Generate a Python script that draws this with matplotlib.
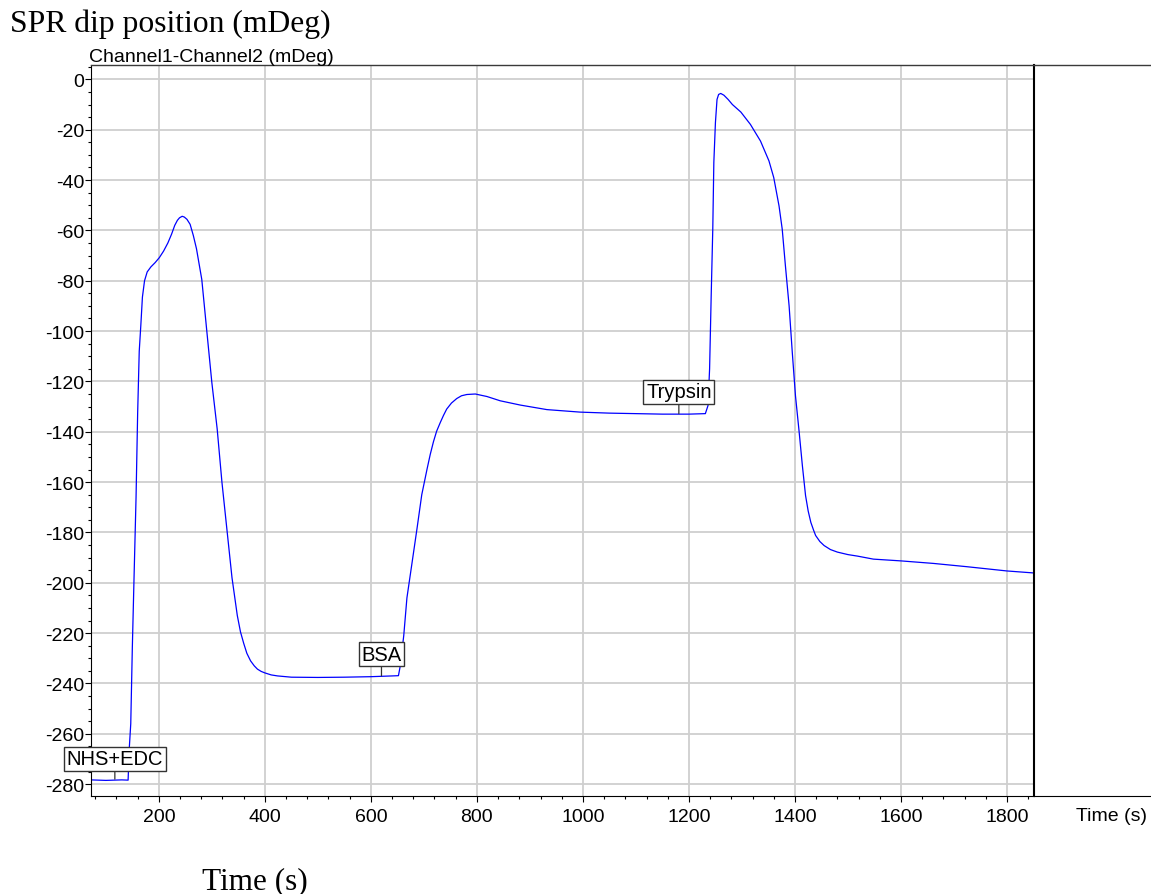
import matplotlib
matplotlib.use("Agg")
import matplotlib.pyplot as plt
from matplotlib.lines import Line2D
from matplotlib.ticker import MultipleLocator

plt.rcParams['axes.unicode_minus'] = False

# tiempo (s) y posicion del dip SPR (mDeg)
tiempo = [72, 100, 130, 142, 144, 147, 150, 153, 157, 160,
          163, 166, 169, 173, 178, 185, 193, 201, 209, 217, 224, 230, 235, 239, 244, 248,
          253, 259, 265, 271, 281, 290, 300, 310, 319, 329, 338, 348,
          354, 360, 366, 373, 380, 386, 393, 400, 412, 424, 450, 500, 550, 600, 640,
          652, 655, 662, 668, 677, 687, 696, 706, 712, 718, 724, 731,
          737, 743, 752, 762, 771, 781, 797, 819, 844, 882, 932, 995, 1050,
          1100, 1150, 1200, 1231, 1236, 1239, 1242, 1245, 1247, 1250,
          1253, 1256, 1260, 1266, 1274, 1282, 1298, 1316, 1335, 1351, 1360, 1370,
          1376, 1382, 1389, 1395, 1401, 1408, 1414, 1420, 1425, 1430, 1435, 1439,
          1447, 1455, 1467, 1480, 1500, 1518, 1548, 1600, 1661, 1724, 1800, 1851]
senal = [-278.3, -278.5, -278.3, -278.4, -266.5, -256, -225.5, -199.6, -166, -132.7,
         -108, -97.7, -86.5, -80, -76.5, -74.5, -72.8, -70.8, -68.2, -65, -61.5, -58, -56, -55, -54.4, -54.7,
         -55.6, -57.6, -62, -67.3, -79.5, -99, -120.5, -138.8, -160, -180, -198, -213,
         -219.5, -224, -228, -231, -233, -234.3, -235.2, -235.8, -236.6, -237, -237.5, -237.6, -237.5, -237.3, -237,
         -236.9, -233.5, -221, -206, -193, -178.5, -165, -154.8, -149, -144, -139.8, -136.3,
         -133.5, -131, -128.6, -126.8, -125.7, -125.2, -125, -126, -127.7, -129.4, -131.2, -132.2, -132.6,
         -132.8, -133, -133, -132.8, -129.6, -115, -86, -59.5, -33, -17.2,
         -8, -6, -5.6, -6.3, -8, -10, -13, -17.9, -24.5, -32.4, -39, -50.3,
         -59.5, -74, -90, -108.5, -125.7, -140.2, -153.4, -165.3, -171.5, -176, -179, -181.2,
         -183.6, -185.2, -186.8, -187.8, -188.8, -189.4, -190.6, -191.3, -192.3, -193.6, -195.3, -196.1]

# inyecciones: etiqueta, tiempo, valor en la curva, altura de la caja
eventos = ["NHS+EDC", "BSA", "Trypsin"]
t_eventos = [117, 620, 1181]
y_eventos = [-278, -237, -132.8]
y_cajas = [-270.0, -228.3, -124.2]

sans = ['Liberation Sans', 'DejaVu Sans']
serif = ['Liberation Serif', 'DejaVu Serif']

fig = plt.figure(figsize=(11.51, 8.95), dpi=100)
x0, x1 = 91 / 1151, 1034 / 1151
y0, y1 = 98 / 895, 829 / 895
ax = fig.add_axes([x0, y0, x1 - x0, y1 - y0])

ax.plot(tiempo, senal, color='#0000ff', lw=0.9)

ax.set_xlim(72, 1851)
ax.set_ylim(-284.7, 5.7)
ax.xaxis.set_major_locator(MultipleLocator(200))
ax.xaxis.set_minor_locator(MultipleLocator(40))
ax.yaxis.set_major_locator(MultipleLocator(20))
ax.yaxis.set_minor_locator(MultipleLocator(5))
ax.grid(True, which='major', color='#cfcfcf', lw=1.3)
ax.set_axisbelow(True)

ax.tick_params(which='major', direction='out', length=4, width=0.8,
               labelsize=14, pad=1)
ax.tick_params(axis='x', which='major', pad=5)
ax.tick_params(which='minor', direction='out', length=2, width=0.8)
for lab in ax.get_xticklabels() + ax.get_yticklabels():
    lab.set_family(sans)

ax.spines['top'].set_color('#3a3a3a')
ax.spines['top'].set_linewidth(1.0)
ax.spines['right'].set_color('black')
ax.spines['right'].set_linewidth(1.5)
ax.spines['left'].set_linewidth(0.8)
ax.spines['bottom'].set_linewidth(0.8)

# lineas del marco que siguen hasta el borde derecho
fig.add_artist(Line2D([x1, 1], [y1, y1], color='#3a3a3a', lw=1.0,
                      transform=fig.transFigure))
fig.add_artist(Line2D([x1, 1], [y0, y0], color='black', lw=0.8,
                      transform=fig.transFigure))

for nombre, t, yv, yc in zip(eventos, t_eventos, y_eventos, y_cajas):
    ax.annotate(nombre, xy=(t, yv), xytext=(t, yc), ha='center', va='center',
                fontsize=14.5, family=sans,
                bbox=dict(boxstyle='square,pad=0.14', fc='white', ec='#333333', lw=1.0),
                arrowprops=dict(arrowstyle='-', color='#333333', lw=0.9,
                                shrinkA=0, shrinkB=0))

fig.text(10 / 1151, 1 - 32 / 895, "SPR dip position (mDeg)", fontsize=22.8,
         family=serif, va='baseline', ha='left')
fig.text(89 / 1151, 1 - 62 / 895, "Channel1-Channel2 (mDeg)", fontsize=14,
         family=sans, va='baseline', ha='left')
fig.text(1076 / 1151, 1 - 817 / 895, "Time (s)", fontsize=14,
         family=sans, va='center', ha='left')
fig.text(202 / 1151, 1 - 889 / 895, "Time (s)", fontsize=22.5,
         family=serif, va='baseline', ha='left')

fig.savefig("out.png", dpi=100)
